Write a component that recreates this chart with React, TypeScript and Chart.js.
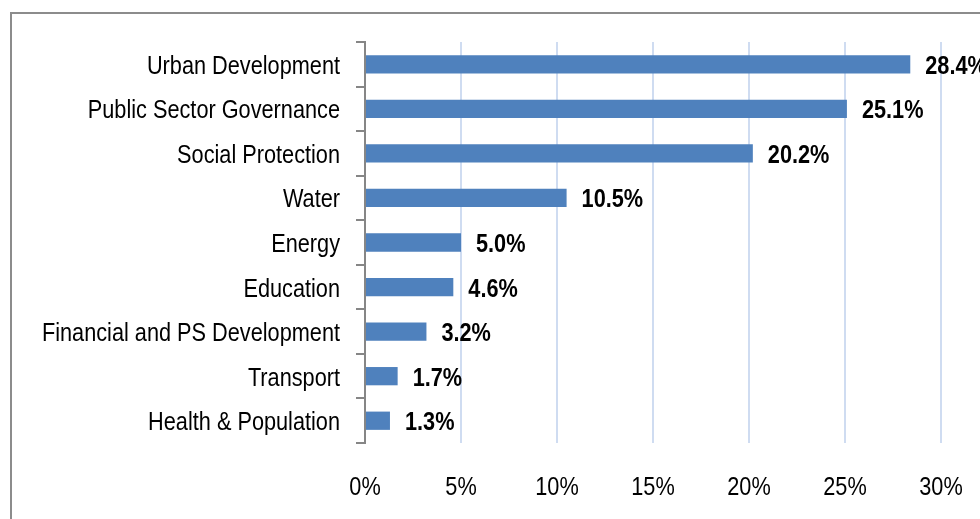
import React, { useEffect, useRef } from "react";
import { Chart, registerables } from "chart.js";

Chart.register(...registerables);

const categories = [
  "Urban Development",
  "Public Sector Governance",
  "Social Protection",
  "Water",
  "Energy",
  "Education",
  "Financial and PS Development",
  "Transport",
  "Health & Population",
];
const shares = [28.4, 25.1, 20.2, 10.5, 5.0, 4.6, 3.2, 1.7, 1.3];
const xTicks = [0, 5, 10, 15, 20, 25, 30];

const FONT = "'Liberation Sans', Arial, sans-serif";
const FONT_SIZE = 26;
const NARROW = 0.835;

function narrowText(
  ctx: CanvasRenderingContext2D,
  text: string,
  x: number,
  y: number,
  align: CanvasTextAlign,
  bold: boolean
) {
  ctx.save();
  ctx.font = `${bold ? "bold " : ""}${FONT_SIZE}px ${FONT}`;
  ctx.fillStyle = "#000";
  ctx.textAlign = align;
  ctx.textBaseline = "alphabetic";
  ctx.translate(x, y);
  ctx.scale(NARROW, 1);
  ctx.fillText(text, 0, 0);
  ctx.restore();
}

const narrowLabels = {
  id: "narrowLabels",
  afterDraw(chart: any) {
    const ctx = chart.ctx;
    const xs = chart.scales.x;
    const ys = chart.scales.y;
    // category labels
    ys.ticks.forEach((t: any, i: number) => {
      const y = ys.getPixelForTick(i);
      narrowText(ctx, String(chart.data.labels[t.value]), 340, y + 9.5, "right", false);
    });
    // x tick labels
    xs.ticks.forEach((t: any) => {
      const x = xs.getPixelForValue(t.value);
      narrowText(ctx, `${t.value}%`, x, 495, "center", false);
    });
    // value labels
    const meta = chart.getDatasetMeta(0);
    meta.data.forEach((bar: any, i: number) => {
      const v = chart.data.datasets[0].data[i];
      narrowText(ctx, `${Number(v).toFixed(1)}%`, bar.x + 15, bar.y + 9.5, "left", true);
    });
  },
};

export default function App() {
  const ref = useRef<HTMLCanvasElement | null>(null);
  useEffect(() => {
    if (!ref.current) return;
    const chart = new Chart(ref.current, {
      type: "bar",
      data: {
        labels: categories,
        datasets: [
          {
            data: shares,
            backgroundColor: "#4f81bd",
            borderWidth: 0,
            barPercentage: 0.41,
            categoryPercentage: 1,
          },
        ],
      },
      options: {
        indexAxis: "y",
        responsive: false,
        animation: false,
        layout: { padding: { top: 42, right: 39, left: 0, bottom: 0 } },
        plugins: { legend: { display: false }, tooltip: { enabled: false } },
        scales: {
          x: {
            min: 0,
            max: 30,
            afterFit: (s: any) => {
              s.height = 76;
            },
            afterBuildTicks: (s: any) => {
              s.ticks = xTicks.map((v) => ({ value: v }));
            },
            grid: {
              color: "#cfdcf1",
              lineWidth: 2,
              drawTicks: false,
            },
            border: { display: false },
            ticks: { display: false },
          },
          y: {
            afterFit: (s: any) => {
              s.width = 365;
            },
            grid: {
              drawOnChartArea: false,
              drawTicks: true,
              tickLength: 9,
              color: "#868686",
              lineWidth: 2,
              offset: true,
            },
            border: { display: true, color: "#868686", width: 2 },
            ticks: { display: false },
          },
        },
      },
      plugins: [narrowLabels],
    });
    return () => chart.destroy();
  }, []);

  return (
    <div
      style={{
        position: "fixed",
        left: 0,
        top: 0,
        width: 980,
        height: 519,
        background: "#fff",
        overflow: "hidden",
      }}
    >
      <div
        style={{
          position: "absolute",
          left: 10,
          top: 12,
          width: 1200,
          height: 800,
          borderLeft: "2px solid #8c8c8c",
          borderTop: "2px solid #8c8c8c",
        }}
      />
      <canvas
        ref={ref}
        width={980}
        height={519}
        style={{ position: "absolute", left: 0, top: 0, display: "block" }}
      />
    </div>
  );
}
